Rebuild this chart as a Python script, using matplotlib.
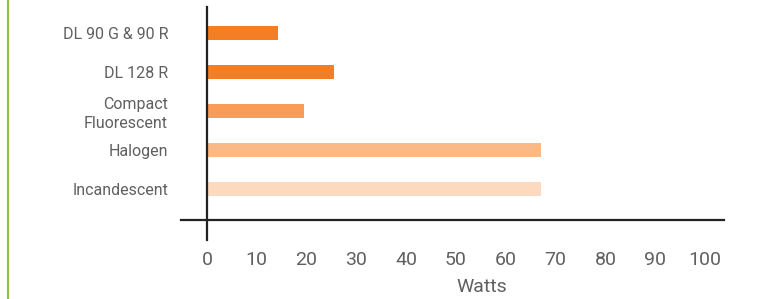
import matplotlib.pyplot as plt
import numpy as np

# --- data ---
lamps = ['DL 90 G & 90 R', 'DL 128 R', 'Compact\nFluorescent', 'Halogen', 'Incandescent']
watts = [14.3, 25.5, 19.5, 67, 67]
bar_colors = ['#F47E23', '#F47E23', '#F99C57', '#FBB985', '#FDDABE']
x_ticks = [0, 10, 20, 30, 40, 50, 60, 70, 80, 90, 100]

plt.rcParams['font.family'] = ['Roboto', 'DejaVu Sans']
text_col = '#606060'

W, H = 763, 299
fig = plt.figure(figsize=(W / 100, H / 100), dpi=100)

# axes box in pixels: x 181..724, y 7..240 (from top)
ax = fig.add_axes([181 / W, 1 - 240 / H, (724 - 181) / W, (240 - 7) / H])

# spines first: moving a spine resets the ticks
for s in ['top', 'right']:
    ax.spines[s].set_visible(False)
ax.spines['left'].set_position(('data', 0))
ax.spines['bottom'].set_position(('axes', (240 - 220) / 233))
for s in ['left', 'bottom']:
    ax.spines[s].set_color('#222222')
    ax.spines[s].set_linewidth(1.6)

pos = np.arange(len(lamps))
ax.barh(pos, watts, height=0.36, color=bar_colors, zorder=2)
ax.set_yticks(pos)
ax.set_yticklabels(lamps, color=text_col, fontsize=11.5, linespacing=1.3)
ax.set_ylim(len(lamps) - 1 + 1.30, -0.66)

ax.set_xlim(-5.2, 103.8)
ax.set_xticks(x_ticks)
ax.set_xticklabels([str(t) for t in x_ticks], color=text_col, fontsize=14)

ax.tick_params(axis='both', length=0)
ax.tick_params(axis='x', pad=22)
ax.tick_params(axis='y', pad=28)

ax.set_xlabel('Watts', color=text_col, fontsize=14)
ax.xaxis.set_label_coords((482 - 181) / 543, (240 - 287) / 233)
ax.xaxis.label.set_verticalalignment('center')

# green rule at the left edge
fig.add_artist(plt.Line2D([7.5 / W, 7.5 / W], [0, 1], color='#8DC63F', lw=1.5))

fig.savefig('out.png', dpi=100)
